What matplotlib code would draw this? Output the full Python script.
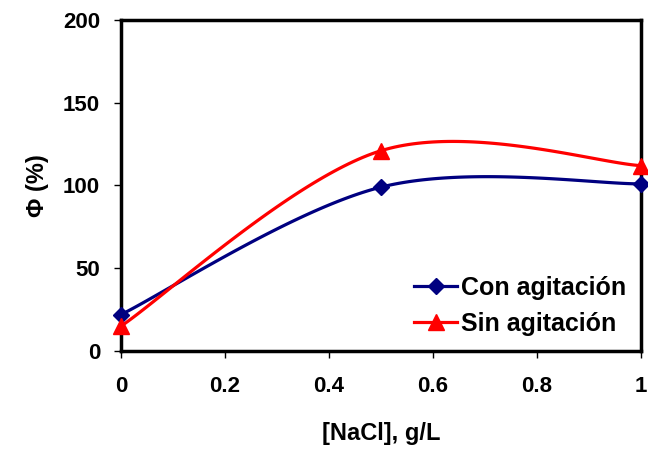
import numpy as np
import matplotlib
matplotlib.use("Agg")
import matplotlib.pyplot as plt
from matplotlib.lines import Line2D

plt.rcParams['font.family'] = ['Liberation Sans', 'DejaVu Sans']
plt.rcParams['font.weight'] = 'bold'

nacl = [0.0, 0.5, 1.0]
con_agitacion = [22, 99, 101]
sin_agitacion = [15, 121, 112]
x_ticks = [0, 0.2, 0.4, 0.6, 0.8, 1]
x_tick_labels = ['0', '0.2', '0.4', '0.6', '0.8', '1']
y_ticks = [0, 50, 100, 150, 200]


def smooth(xs, ys, n=60):
    """Cardinal-spline smoothing through the points (Bezier, tension 1/6)."""
    p = np.column_stack([xs, ys]).astype(float)
    ext = np.vstack([p[0], p, p[-1]])
    out = []
    t = np.linspace(0, 1, n)[:, None]
    for i in range(len(p) - 1):
        p0, p1 = ext[i + 1], ext[i + 2]
        c1 = p0 + (ext[i + 2] - ext[i]) / 6
        c2 = p1 - (ext[i + 3] - ext[i + 1]) / 6
        seg = ((1 - t) ** 3) * p0 + 3 * ((1 - t) ** 2) * t * c1 + 3 * (1 - t) * t ** 2 * c2 + t ** 3 * p1
        out.append(seg if i == 0 else seg[1:])
    s = np.vstack(out)
    return s[:, 0], s[:, 1]


fig = plt.figure(figsize=(6.48, 4.5), dpi=100)
ax = fig.add_axes([0.1867, 0.22, 0.8023, 0.7356])

blue = '#000080'
red = '#FF0000'

sx, sy = smooth(nacl, con_agitacion)
ax.plot(sx, sy, color=blue, lw=2.3, zorder=3)
ax.plot(nacl, con_agitacion, ls='none', marker='D', ms=8, color=blue, clip_on=False, zorder=4)

sx, sy = smooth(nacl, sin_agitacion)
ax.plot(sx, sy, color=red, lw=2.3, zorder=3)
ax.plot(nacl, sin_agitacion, ls='none', marker='^', ms=11, color=red, clip_on=False, zorder=4)

ax.set_xlim(0, 1)
ax.set_ylim(0, 200)
ax.set_xticks(x_ticks)
ax.set_xticklabels(x_tick_labels)
ax.set_yticks(y_ticks)

for s in ax.spines.values():
    s.set_linewidth(2.5)
    s.set_color('black')
ax.tick_params(direction='out', length=5, width=1, labelsize=16)
ax.tick_params(axis='x', pad=13)
ax.tick_params(axis='y', pad=10)
for lab in ax.get_xticklabels() + ax.get_yticklabels():
    lab.set_fontweight('bold')

ax.set_xlabel('[NaCl], g/L', fontsize=17, fontweight='bold', labelpad=18)
ax.set_ylabel('Φ (%)', fontsize=17, fontweight='bold', labelpad=10)

handles = [
    Line2D([], [], color=blue, lw=2.3, marker='D', ms=8),
    Line2D([], [], color=red, lw=2.3, marker='^', ms=11),
]
ax.legend(handles, ['Con agitación', 'Sin agitación'], loc='lower right',
          bbox_to_anchor=(1.0, 0.0), frameon=False,
          prop={'size': 18, 'weight': 'bold'}, handlelength=1.7,
          handletextpad=0.15, labelspacing=0.5, borderaxespad=0.2)

fig.savefig('out.png', dpi=100)
